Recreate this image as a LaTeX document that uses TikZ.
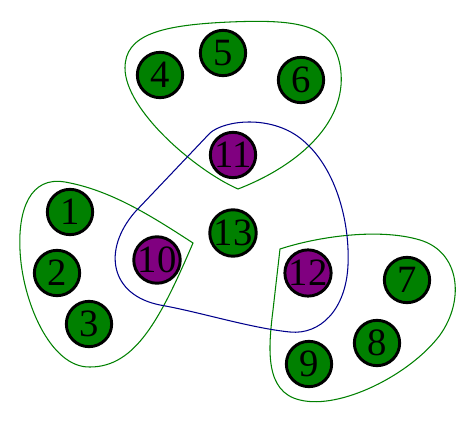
\documentclass[tikz,border=0pt]{standalone}
\usepackage{fontspec}
\setmainfont{Liberation Serif}
\usepackage{tikz}
\definecolor{vgreen}{RGB}{0,128,0}
\definecolor{vpurple}{RGB}{128,0,128}
\definecolor{edgeblue}{RGB}{0,0,140}

\begin{document}
\begin{tikzpicture}[
  x=0.03cm, y=-0.03cm,
  vtx/.style={circle, draw=black, line width=2.5pt, inner sep=0pt,
              minimum size=1.36cm, font=\fontsize{33}{33}\selectfont},
  gvtx/.style={vtx, fill=vgreen},
  pvtx/.style={vtx, fill=vpurple},
  gedge/.style={draw=vgreen, line width=0.9pt},
  bedge/.style={draw=edgeblue, line width=0.9pt}
]
\useasboundingbox (0,0) rectangle (476,423);

% ===== 超边（绿色）=====
\draw[gedge] (238,189) .. controls (195,170) and (125,110) .. (125,68)
  .. controls (125,35) and (160,25) .. (230,22)
  .. controls (300,19) and (332,25) .. (340,65)
  .. controls (350,120) and (300,165) .. (238,189) -- cycle;
\draw[gedge] (193,243) .. controls (150,215) and (110,190) .. (65,182)
  .. controls (30,176) and (18,210) .. (20,250)
  .. controls (22,300) and (50,368) .. (90,367)
  .. controls (135,367) and (160,320) .. (193,243) -- cycle;
\draw[gedge] (280,249) .. controls (320,236) and (380,228) .. (420,240)
  .. controls (460,252) and (465,300) .. (440,335)
  .. controls (410,375) and (340,410) .. (300,400)
  .. controls (265,392) and (268,350) .. (273,310) -- cycle;

% ===== 超边（蓝色）=====
\draw[bedge] (210,133) .. controls (225,120) and (270,115) .. (300,138)
  .. controls (335,165) and (350,220) .. (348,265)
  .. controls (346,310) and (320,335) .. (290,332)
  .. controls (250,328) and (200,312) .. (160,305)
  .. controls (110,295) and (102,250) .. (135,212) -- cycle;

% ===== 顶点 =====
\node[gvtx] (n1) at (70,212) {1};
\node[gvtx] (n2) at (57,273) {2};
\node[gvtx] (n3) at (89,324) {3};
\node[gvtx] (n4) at (160,75) {4};
\node[gvtx] (n5) at (223,53) {5};
\node[gvtx] (n6) at (301,80) {6};
\node[gvtx] (n7) at (407,280) {7};
\node[gvtx] (n8) at (377,343) {8};
\node[gvtx] (n9) at (309,364) {9};
\node[pvtx] (n10) at (157,260) {10};
\node[pvtx] (n11) at (233,155) {11};
\node[pvtx] (n12) at (308,273) {12};
\node[gvtx] (n13) at (233,233) {13};

\end{tikzpicture}
\end{document}
